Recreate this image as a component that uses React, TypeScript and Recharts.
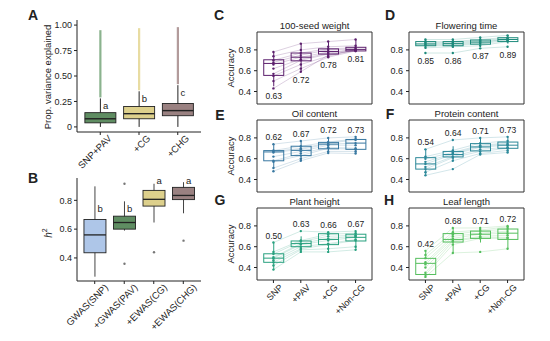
import React from "react";
import { ComposedChart, Bar, Line, XAxis, YAxis, ReferenceArea } from "recharts";

const FONT = "'Liberation Sans', Arial, Helvetica, sans-serif";
const INK = "#222222";

// A: proportion of variance explained
const varCats = ["SNP+PAV", "+CG", "+CHG"];
const varLo = [0, 0, 0];
const varQ1 = [0.04, 0.08, 0.11];
const varMed = [0.08, 0.13, 0.16];
const varQ3 = [0.14, 0.2, 0.23];
const varHi = [0.28, 0.35, 0.41];
const varOutMax = [0.95, 0.97, 0.98];
const varLetters = ["a", "b", "c"];
const varFill = ["#5f8d62", "#ddd08c", "#9a8181"];
const varOutColor = ["#8bb38e", "#e8dca2", "#b29b9b"];

// B: h2
const h2Cats = ["GWAS(SNP)", "+GWAS(PAV)", "+EWAS(CG)", "+EWAS(CHG)"];
const h2Lo = [0.27, 0.59, 0.646, 0.71];
const h2Q1 = [0.436, 0.6, 0.76, 0.805];
const h2Med = [0.56, 0.646, 0.807, 0.834];
const h2Q3 = [0.667, 0.69, 0.869, 0.89];
const h2Hi = [0.897, 0.793, 0.915, 0.926];
const h2Out = [[], [0.915, 0.36], [0.44], [0.52]];
const h2Letters = ["b", "b", "a", "a"];
const h2LetterAt = [0.74, 0.74, 0.94, 0.94];
const h2Fill = ["#aec6e8", "#5f8d62", "#ddd08c", "#9a8181"];

// C-H: prediction accuracy
const methods = ["SNP", "+PAV", "+CG", "+Non-CG"];

const seedStats = [
  { lo: 0.45, q1: 0.555, med: 0.67, q3: 0.705, hi: 0.78 },
  { lo: 0.59, q1: 0.695, med: 0.73, q3: 0.77, hi: 0.86 },
  { lo: 0.73, q1: 0.76, med: 0.785, q3: 0.81, hi: 0.88 },
  { lo: 0.785, q1: 0.79, med: 0.805, q3: 0.825, hi: 0.9 },
];
const seedMeans = ["0.63", "0.72", "0.78", "0.81"];
const seedReps = [
  [0.78, 0.86, 0.88, 0.9],
  [0.74, 0.8, 0.83, 0.84],
  [0.7, 0.77, 0.81, 0.82],
  [0.68, 0.75, 0.8, 0.81],
  [0.66, 0.73, 0.78, 0.8],
  [0.62, 0.71, 0.77, 0.8],
  [0.57, 0.7, 0.76, 0.79],
  [0.55, 0.66, 0.74, 0.8],
  [0.5, 0.62, 0.73, 0.79],
  [0.43, 0.59, 0.75, 0.8],
];

const flowerStats = [
  { lo: 0.81, q1: 0.84, med: 0.857, q3: 0.88, hi: 0.9 },
  { lo: 0.82, q1: 0.84, med: 0.86, q3: 0.88, hi: 0.9 },
  { lo: 0.83, q1: 0.855, med: 0.875, q3: 0.895, hi: 0.92 },
  { lo: 0.86, q1: 0.88, med: 0.9, q3: 0.917, hi: 0.94 },
];
const flowerMeans = ["0.85", "0.86", "0.87", "0.89"];
const flowerReps = [
  [0.9, 0.9, 0.92, 0.94],
  [0.88, 0.88, 0.9, 0.92],
  [0.87, 0.87, 0.89, 0.91],
  [0.86, 0.86, 0.88, 0.9],
  [0.85, 0.85, 0.87, 0.9],
  [0.84, 0.84, 0.86, 0.89],
  [0.82, 0.83, 0.84, 0.88],
  [0.77, 0.77, 0.815, 0.83],
];

const oilStats = [
  { lo: 0.51, q1: 0.58, med: 0.665, q3: 0.678, hi: 0.74 },
  { lo: 0.58, q1: 0.63, med: 0.68, q3: 0.72, hi: 0.77 },
  { lo: 0.655, q1: 0.695, med: 0.74, q3: 0.757, hi: 0.805 },
  { lo: 0.65, q1: 0.69, med: 0.75, q3: 0.785, hi: 0.81 },
];
const oilMeans = ["0.62", "0.67", "0.72", "0.73"];
const oilReps = [
  [0.74, 0.77, 0.8, 0.81],
  [0.68, 0.72, 0.76, 0.79],
  [0.67, 0.7, 0.75, 0.78],
  [0.66, 0.69, 0.74, 0.75],
  [0.62, 0.67, 0.73, 0.73],
  [0.58, 0.65, 0.71, 0.7],
  [0.57, 0.63, 0.7, 0.69],
  [0.51, 0.6, 0.67, 0.67],
  [0.48, 0.58, 0.655, 0.65],
];

const proteinStats = [
  { lo: 0.44, q1: 0.5, med: 0.55, q3: 0.61, hi: 0.69 },
  { lo: 0.58, q1: 0.617, med: 0.64, q3: 0.67, hi: 0.72 },
  { lo: 0.64, q1: 0.675, med: 0.713, q3: 0.745, hi: 0.8 },
  { lo: 0.66, q1: 0.7, med: 0.73, q3: 0.76, hi: 0.81 },
];
const proteinMeans = ["0.54", "0.64", "0.71", "0.73"];
const proteinReps = [
  [0.69, 0.78, 0.8, 0.81],
  [0.62, 0.68, 0.75, 0.77],
  [0.6, 0.66, 0.73, 0.75],
  [0.57, 0.65, 0.72, 0.74],
  [0.55, 0.64, 0.71, 0.73],
  [0.52, 0.62, 0.69, 0.71],
  [0.5, 0.61, 0.67, 0.7],
  [0.47, 0.58, 0.65, 0.68],
  [0.44, 0.5, 0.64, 0.66],
];

const heightStats = [
  { lo: 0.38, q1: 0.45, med: 0.49, q3: 0.532, hi: 0.64 },
  { lo: 0.55, q1: 0.6, med: 0.63, q3: 0.655, hi: 0.7 },
  { lo: 0.55, q1: 0.62, med: 0.67, q3: 0.725, hi: 0.74 },
  { lo: 0.57, q1: 0.655, med: 0.69, q3: 0.72, hi: 0.75 },
];
const heightMeans = ["0.50", "0.63", "0.66", "0.67"];
const heightReps = [
  [0.64, 0.75, 0.74, 0.75],
  [0.55, 0.66, 0.72, 0.73],
  [0.53, 0.65, 0.7, 0.71],
  [0.5, 0.63, 0.68, 0.7],
  [0.49, 0.62, 0.66, 0.69],
  [0.47, 0.6, 0.63, 0.67],
  [0.45, 0.58, 0.62, 0.66],
  [0.42, 0.57, 0.58, 0.6],
  [0.38, 0.55, 0.55, 0.57],
];

const leafStats = [
  { lo: 0.31, q1: 0.333, med: 0.44, q3: 0.488, hi: 0.56 },
  { lo: 0.54, q1: 0.645, med: 0.67, q3: 0.726, hi: 0.78 },
  { lo: 0.64, q1: 0.68, med: 0.72, q3: 0.75, hi: 0.78 },
  { lo: 0.58, q1: 0.67, med: 0.73, q3: 0.77, hi: 0.8 },
];
const leafMeans = ["0.42", "0.68", "0.71", "0.72"];
const leafReps = [
  [0.56, 0.78, 0.78, 0.8],
  [0.52, 0.74, 0.76, 0.79],
  [0.49, 0.72, 0.75, 0.77],
  [0.45, 0.7, 0.73, 0.75],
  [0.43, 0.68, 0.72, 0.73],
  [0.4, 0.66, 0.7, 0.71],
  [0.35, 0.65, 0.69, 0.69],
  [0.33, 0.62, 0.68, 0.68],
  [0.31, 0.54, 0.55, 0.58],
];

// maps a value to pixels using the range bar the library placed for [lo, hi]
function pixelScale(p: any) {
  const { y, height, payload } = p;
  const top = Math.min(y, y + height);
  const bot = Math.max(y, y + height);
  const k = (bot - top) / (payload.hi - payload.lo);
  return (v: number) => bot - (v - payload.lo) * k;
}

function VarBox(p: any) {
  const { x, width, payload, index } = p;
  const py = pixelScale(p);
  const cx = x + width / 2;
  return (
    <g>
      <line x1={cx} x2={cx} y1={py(payload.hi) - 1} y2={py(payload.outMax)} stroke={varOutColor[index]} strokeWidth={2.2} />
      <line x1={cx} x2={cx} y1={py(payload.lo)} y2={py(payload.hi)} stroke={INK} strokeWidth={1} />
      <rect x={x} y={py(payload.q3)} width={width} height={py(payload.q1) - py(payload.q3)} fill={varFill[index]} stroke={INK} strokeWidth={0.9} />
      <line x1={x} x2={x + width} y1={py(payload.med)} y2={py(payload.med)} stroke={INK} strokeWidth={1.4} />
      <text x={cx + 2.5} y={py(payload.hi) + 11} fontSize={9.5} fill={INK} fontFamily={FONT}>{payload.letter}</text>
    </g>
  );
}

function H2Box(p: any) {
  const { x, width, payload, index } = p;
  const py = pixelScale(p);
  const cx = x + width / 2;
  return (
    <g>
      <line x1={cx} x2={cx} y1={py(payload.lo)} y2={py(payload.hi)} stroke="#444" strokeWidth={1} />
      <rect x={x} y={py(payload.q3)} width={width} height={py(payload.q1) - py(payload.q3)} fill={h2Fill[index]} stroke={INK} strokeWidth={0.9} />
      <line x1={x} x2={x + width} y1={py(payload.med)} y2={py(payload.med)} stroke={INK} strokeWidth={1.3} />
      {payload.out.map((v: number, i: number) => (
        <circle key={i} cx={cx} cy={py(v)} r={1.2} fill="#777" />
      ))}
      <text x={cx + 2.5} y={py(payload.letterAt) + 3.5} fontSize={9.5} fill={INK} fontFamily={FONT}>{payload.letter}</text>
    </g>
  );
}

function AccBox(p: any) {
  const { x, width, payload, color, below } = p;
  const py = pixelScale(p);
  const cx = x + width / 2;
  const vals = [payload.lo, payload.hi, ...payload.reps];
  const labelY = below ? py(Math.min(...vals)) + 11 : py(Math.max(...vals)) - 4;
  return (
    <g>
      <line x1={cx} x2={cx} y1={py(payload.lo)} y2={py(payload.q1)} stroke={color} strokeWidth={1} />
      <line x1={cx} x2={cx} y1={py(payload.q3)} y2={py(payload.hi)} stroke={color} strokeWidth={1} />
      <rect x={x} y={py(payload.q3)} width={width} height={py(payload.q1) - py(payload.q3)} fill="none" stroke={color} strokeWidth={1} />
      <line x1={x} x2={x + width} y1={py(payload.med)} y2={py(payload.med)} stroke={color} strokeWidth={1} />
      <text x={cx} y={labelY} textAnchor="middle" fontSize={8.5} fill={INK} fontFamily={FONT}>{payload.mean}</text>
    </g>
  );
}

function SlantTick(p: any) {
  const tx = p.x + p.ox;
  const ty = p.y + p.oy;
  return (
    <text x={tx} y={ty} transform={`rotate(-45 ${tx} ${ty})`} textAnchor="end" fontSize={p.size} fill={INK} fontFamily={FONT}>
      {p.labels[p.payload.value - 1]}
    </text>
  );
}

const varRows = varCats.map((cat, i) => ({
  x: i + 1, cat, lo: varLo[i], q1: varQ1[i], med: varMed[i], q3: varQ3[i], hi: varHi[i],
  outMax: varOutMax[i], letter: varLetters[i], range: [varLo[i], varHi[i]],
}));

const h2Rows = h2Cats.map((cat, i) => ({
  x: i + 1, cat, lo: h2Lo[i], q1: h2Q1[i], med: h2Med[i], q3: h2Q3[i], hi: h2Hi[i],
  out: h2Out[i], letter: h2Letters[i], letterAt: h2LetterAt[i], range: [h2Lo[i], h2Hi[i]],
}));

function accRows(stats: any[], means: string[], reps: number[][]) {
  return methods.map((m, i) => {
    const row: any = { x: i + 1, method: m, ...stats[i], range: [stats[i].lo, stats[i].hi], mean: means[i], reps: reps.map((r) => r[i]) };
    reps.forEach((r, j) => {
      row[`r${j}`] = r[i];
    });
    return row;
  });
}

const tickStyle = { fontSize: 9, fill: INK, fontFamily: FONT };

function VarChart() {
  return (
    <div style={{ position: "absolute", left: 0, top: 0 }}>
      <ComposedChart width={210} height={175} data={varRows} margin={{ top: 20, right: 9, bottom: 0, left: 0 }}>
        <XAxis type="number" dataKey="x" domain={[0.4, 3.6]} ticks={[1, 2, 3]} allowDataOverflow height={43}
          axisLine={{ stroke: INK }} tickLine={{ stroke: INK }} tickSize={3}
          tick={(t: any) => <SlantTick {...t} labels={varCats} ox={12} oy={2} size={9.5} />} />
        <YAxis type="number" domain={[-0.05, 1.05]} ticks={[0, 0.25, 0.5, 0.75, 1]} allowDataOverflow width={77}
          axisLine={{ stroke: INK }} tickLine={{ stroke: INK }} tickSize={3} tickMargin={2} tick={tickStyle}
          tickFormatter={(v: number) => (v === 0 ? "0" : v.toFixed(2))} />
        <Bar dataKey="range" barSize={31} shape={(s: any) => <VarBox {...s} />} isAnimationActive={false} />
      </ComposedChart>
    </div>
  );
}

function H2Chart() {
  return (
    <div style={{ position: "absolute", left: 0, top: 158 }}>
      <ComposedChart width={210} height={183} data={h2Rows} margin={{ top: 20, right: 9, bottom: 0, left: 0 }}>
        <XAxis type="number" dataKey="x" domain={[0.4, 4.6]} ticks={[1, 2, 3, 4]} allowDataOverflow height={60}
          axisLine={{ stroke: INK }} tickLine={{ stroke: INK }} tickSize={3}
          tick={(t: any) => <SlantTick {...t} labels={h2Cats} ox={14} oy={2} size={9.5} />} />
        <YAxis type="number" domain={[0.24, 0.955]} ticks={[0.4, 0.6, 0.8]} allowDataOverflow width={77}
          axisLine={{ stroke: INK }} tickLine={{ stroke: INK }} tickSize={3} tickMargin={2} tick={tickStyle}
          tickFormatter={(v: number) => v.toFixed(1)} />
        <Bar dataKey="range" barSize={22} shape={(s: any) => <H2Box {...s} />} isAnimationActive={false} />
      </ComposedChart>
    </div>
  );
}

function AccChart(props: any) {
  const { rows, nReps, color, left, top, xLabels, below } = props;
  const xh = xLabels ? 55 : 4;
  return (
    <div style={{ position: "absolute", left: left - 57, top: top - 4 }}>
      <ComposedChart width={176} height={4 + 72 + xh} data={rows} margin={{ top: 4, right: 4, bottom: 0, left: 0 }}>
        <XAxis type="number" dataKey="x" domain={[0.4, 4.6]} ticks={[1, 2, 3, 4]} allowDataOverflow height={xh}
          axisLine={false} tickLine={xLabels ? { stroke: INK } : false} tickSize={3}
          tick={xLabels ? (t: any) => <SlantTick {...t} labels={methods} ox={10} oy={3} size={9} /> : false} />
        <YAxis type="number" domain={[0.28, 0.972]} ticks={[0.4, 0.6, 0.8]} allowDataOverflow width={57}
          axisLine={false} tickLine={{ stroke: INK }} tickSize={3} tickMargin={3}
          tick={{ fontSize: 9, fill: INK, fontFamily: FONT }} tickFormatter={(v: number) => v.toFixed(1)} />
        <ReferenceArea x1={0.4} x2={4.6} y1={0.28} y2={0.972} fill="none" stroke="#333" strokeWidth={1} ifOverflow="visible" />
        {Array.from({ length: nReps }, (_, j) => (
          <Line key={j} dataKey={`r${j}`} stroke={color} strokeOpacity={0.3} strokeWidth={0.7}
            dot={{ r: 1.2, fill: color, stroke: "none" }} activeDot={false} isAnimationActive={false} />
        ))}
        <Bar dataKey="range" barSize={20} shape={(s: any) => <AccBox {...s} color={color} below={below} />} isAnimationActive={false} />
      </ComposedChart>
    </div>
  );
}

const facets = [
  { key: "C", title: "100-seed weight", rows: accRows(seedStats, seedMeans, seedReps), n: seedReps.length, color: "#5c1f6d", left: 257, top: 32, below: true },
  { key: "D", title: "Flowering time", rows: accRows(flowerStats, flowerMeans, flowerReps), n: flowerReps.length, color: "#1d8a7b", left: 409, top: 32, below: true },
  { key: "E", title: "Oil content", rows: accRows(oilStats, oilMeans, oilReps), n: oilReps.length, color: "#3878a1", left: 257, top: 120 },
  { key: "F", title: "Protein content", rows: accRows(proteinStats, proteinMeans, proteinReps), n: proteinReps.length, color: "#2b8899", left: 409, top: 120 },
  { key: "G", title: "Plant height", rows: accRows(heightStats, heightMeans, heightReps), n: heightReps.length, color: "#28a17f", left: 257, top: 208, xLabels: true },
  { key: "H", title: "Leaf length", rows: accRows(leafStats, leafMeans, leafReps), n: leafReps.length, color: "#55bf5e", left: 409, top: 208, xLabels: true },
];

export default function App() {
  return (
    <div style={{ position: "absolute", left: 0, top: 0, width: 550, height: 341, background: "#fff", overflow: "hidden" }}>
      <VarChart />
      <H2Chart />
      {facets.map((f) => (
        <AccChart key={f.key} rows={f.rows} nReps={f.n} color={f.color} left={f.left} top={f.top} xLabels={f.xLabels} below={f.below} />
      ))}
      <svg width={550} height={341} style={{ position: "absolute", left: 0, top: 0, pointerEvents: "none" }} fontFamily={FONT} fill={INK}>
        <text x={33} y={15} fontSize={14} fontWeight="bold" textAnchor="middle" dominantBaseline="central">A</text>
        <text x={33} y={178} fontSize={14} fontWeight="bold" textAnchor="middle" dominantBaseline="central">B</text>
        <text x={219} y={15} fontSize={14} fontWeight="bold" textAnchor="middle" dominantBaseline="central">C</text>
        <text x={390} y={15} fontSize={14} fontWeight="bold" textAnchor="middle" dominantBaseline="central">D</text>
        <text x={220} y={115} fontSize={14} fontWeight="bold" textAnchor="middle" dominantBaseline="central">E</text>
        <text x={390} y={114} fontSize={14} fontWeight="bold" textAnchor="middle" dominantBaseline="central">F</text>
        <text x={220} y={200} fontSize={14} fontWeight="bold" textAnchor="middle" dominantBaseline="central">G</text>
        <text x={389} y={200} fontSize={14} fontWeight="bold" textAnchor="middle" dominantBaseline="central">H</text>
        {facets.map((f) => (
          <text key={f.key} x={f.left + 57.5} y={f.top - 7} fontSize={9.5} textAnchor="middle" dominantBaseline="central">{f.title}</text>
        ))}
        {facets.filter((f) => f.left === 257).map((f) => (
          <text key={f.key} x={230} y={f.top + 36} fontSize={9.5} textAnchor="middle" dominantBaseline="central" transform={`rotate(-90 230 ${f.top + 36})`}>Accuracy</text>
        ))}
        <text x={47} y={77} fontSize={9.5} textAnchor="middle" dominantBaseline="central" transform="rotate(-90 47 77)">Prop. variance explained</text>
        <text x={48} y={233} fontSize={10} textAnchor="middle" dominantBaseline="central" transform="rotate(-90 48 233)">
          <tspan fontStyle="italic">h</tspan>
          <tspan fontSize={7} dy={-4}>2</tspan>
        </text>
      </svg>
    </div>
  );
}
